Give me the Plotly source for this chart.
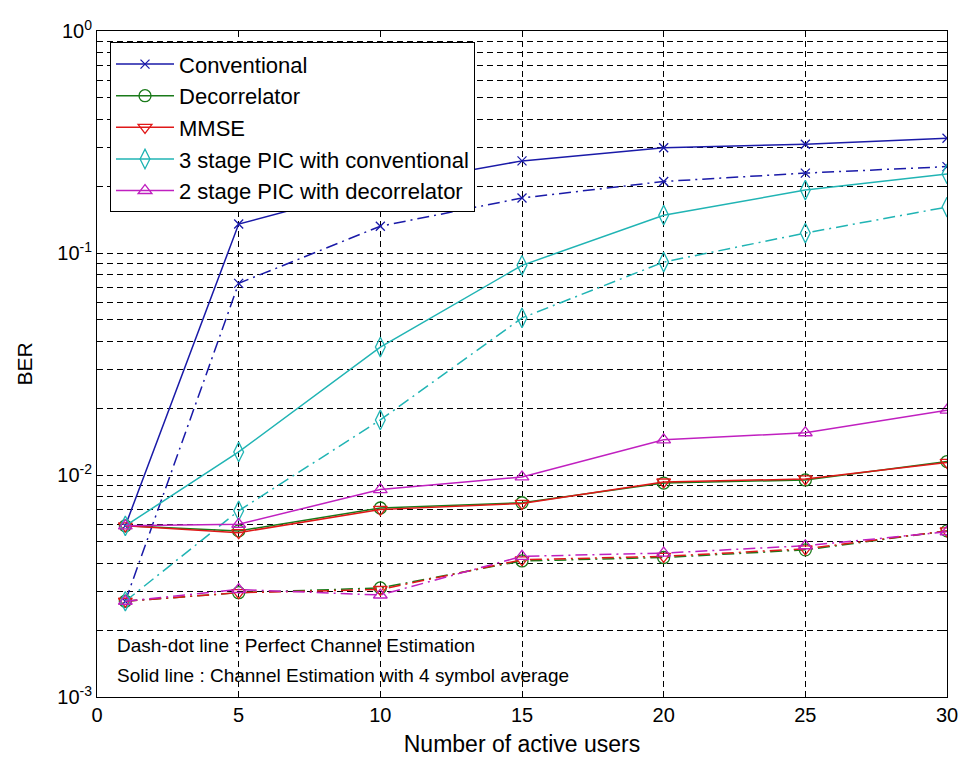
import plotly.graph_objects as go

users = [1, 5, 10, 15, 20, 25, 30]

# Solid lines: channel estimation with 4 symbol average
conv_est = [5.9e-3, 0.135, 0.20, 0.26, 0.298, 0.309, 0.329]
decor_est = [5.9e-3, 5.6e-3, 7.1e-3, 7.5e-3, 9.2e-3, 9.5e-3, 0.0115]
mmse_est = [5.9e-3, 5.5e-3, 7.0e-3, 7.45e-3, 9.3e-3, 9.6e-3, 0.0114]
pic3_est = [5.9e-3, 0.0127, 0.0377, 0.088, 0.148, 0.192, 0.227]
pic2_est = [5.9e-3, 6.0e-3, 8.6e-3, 9.8e-3, 0.0144, 0.0155, 0.0196]

# Dash-dot lines: perfect channel estimation
conv_perf = [2.7e-3, 0.073, 0.132, 0.177, 0.21, 0.229, 0.245]
decor_perf = [2.7e-3, 2.95e-3, 3.1e-3, 4.1e-3, 4.25e-3, 4.6e-3, 5.6e-3]
mmse_perf = [2.7e-3, 2.95e-3, 3.05e-3, 4.15e-3, 4.3e-3, 4.65e-3, 5.6e-3]
pic3_perf = [2.7e-3, 6.9e-3, 0.0177, 0.051, 0.091, 0.123, 0.161]
pic2_perf = [2.7e-3, 3.05e-3, 2.88e-3, 4.3e-3, 4.45e-3, 4.8e-3, 5.55e-3]

names = ["Conventional", "Decorrelator", "MMSE",
         "3 stage PIC with conventional", "2 stage PIC with decorrelator"]
colors = ["#1a1aa8", "#1a7a1a", "#e01818", "#20b4b4", "#c020c0"]
symbols = ["x-thin-open", "circle-open", "triangle-down-open", "diamond-tall-open", "triangle-up-open"]
sizes = [9, 12, 12, 14, 12]

est_series = [conv_est, decor_est, mmse_est, pic3_est, pic2_est]
perf_series = [conv_perf, decor_perf, mmse_perf, pic3_perf, pic2_perf]

y_ticks = [1e-3, 1e-2, 1e-1, 1]
y_ticktext = ["10<sup>-3</sup>", "10<sup>-2</sup>", "10<sup>-1</sup>", "10<sup>0</sup>"]
x_ticks = [0, 5, 10, 15, 20, 25, 30]

minor_vals = [m * 10 ** e for e in (-3, -2, -1) for m in range(2, 10)]

fig = go.Figure()

for i in range(5):
    fig.add_trace(go.Scatter(
        x=users, y=perf_series[i], mode="lines+markers", showlegend=False,
        line=dict(color=colors[i], width=1.5, dash="12px,5px,2px,5px"),
        marker=dict(symbol=symbols[i], size=sizes[i],
                    line=dict(color=colors[i], width=1.3), color=colors[i]),
    ))

for i in range(5):
    fig.add_trace(go.Scatter(
        x=users, y=est_series[i], mode="lines+markers", name=names[i],
        line=dict(color=colors[i], width=1.5),
        marker=dict(symbol=symbols[i], size=sizes[i],
                    line=dict(color=colors[i], width=1.3), color=colors[i]),
    ))

font_family = "Liberation Sans, Arial, sans-serif"

fig.update_layout(
    width=960, height=760,
    paper_bgcolor="white", plot_bgcolor="white",
    margin=dict(l=97, r=13, t=31, b=63, autoexpand=False),
    font=dict(family=font_family, size=19, color="black"),
    showlegend=True,
    legend=dict(
        x=0.0153, y=0.983, xanchor="left", yanchor="top",
        bgcolor="white", bordercolor="black", borderwidth=1,
        font=dict(size=22, family=font_family, color="black"),
        tracegroupgap=0, itemwidth=58,
    ),
    xaxis=dict(
        range=[0, 30], tickvals=x_ticks, ticktext=[str(v) for v in x_ticks],
        showline=True, linecolor="black", linewidth=1, mirror="ticks",
        ticks="inside", ticklen=6, tickcolor="black",
        showgrid=True, gridcolor="black", gridwidth=1, griddash="6px,4px",
        zeroline=False, automargin=False,
        title=dict(text="Number of active users", font=dict(size=23), standoff=10),
        tickfont=dict(size=20),
    ),
    yaxis=dict(
        type="log", range=[-3, 0], tickvals=y_ticks, ticktext=y_ticktext,
        showline=True, linecolor="black", linewidth=1, mirror="ticks",
        ticks="inside", ticklen=6, tickcolor="black",
        showgrid=True, gridcolor="black", gridwidth=1, griddash="6px,4px",
        zeroline=False, automargin=False,
        minor=dict(tickvals=minor_vals, ticks="inside", ticklen=4, tickcolor="black",
                   showgrid=True, gridcolor="black", gridwidth=1, griddash="6px,4px"),
        title=dict(text="BER", font=dict(size=21), standoff=18),
        tickfont=dict(size=20),
    ),
    annotations=[
        dict(text="Dash-dot line : Perfect Channel Estimation", xref="paper", yref="paper",
             x=0.021, y=0.078, xanchor="left", yanchor="middle", showarrow=False,
             font=dict(size=19)),
        dict(text="Solid line : Channel Estimation with 4 symbol average", xref="paper", yref="paper",
             x=0.021, y=0.033, xanchor="left", yanchor="middle", showarrow=False,
             font=dict(size=19)),
    ],
)

fig.write_html("out.html", config={"displayModeBar": False},
               post_script="document.body.style.margin='0';document.body.style.padding='0';")
